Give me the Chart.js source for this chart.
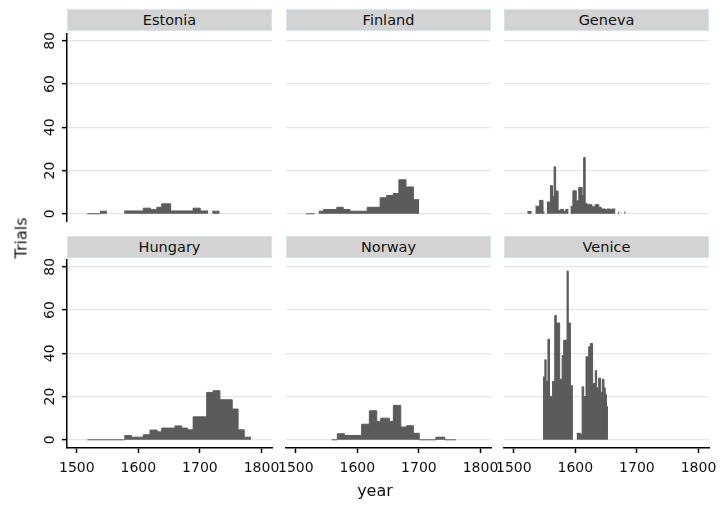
<!DOCTYPE html>
<html lang="en">
<head>
<meta charset="UTF-8">
<title>Trials by year</title>
<script src="https://cdn.jsdelivr.net/npm/chart.js"></script>
<style>
  body { margin: 0; background: #fff; font-family: "DejaVu Sans", sans-serif; }
  #fig { position: relative; width: 720px; height: 505px; overflow: hidden; }
  #fig canvas { position: absolute; }
  .strip { position: absolute; height: 22px; background: #d3d3d3; border: 1px solid #d3e4ec; box-sizing: border-box;
           text-align: center; font-size: 14.5px; line-height: 20px; color: #111; }
  .title { position: absolute; font-size: 16px; color: #111; white-space: nowrap; }
</style>
</head>
<body>
<div id="fig"></div>
<script>
// each series: bin edges (years) and the trials in each bin, null = no bar
const estoniaYears  = [1517, 1538.5, 1549, 1577, 1608, 1620, 1630, 1638, 1652.5, 1689, 1700.5, 1713.5, 1720, 1732];
const estoniaTrials = [0, 1.2, null, 1.3, 2.6, 1.9, 3, 4.6, 1.3, 2.6, 1.3, null, 1.2];

const finlandYears  = [1516.5, 1530.5, 1537, 1545, 1566.5, 1577, 1588, 1616, 1637, 1647.5, 1658.5, 1667.5, 1679, 1691, 1700.5];
const finlandTrials = [0, null, 1.2, 2, 3, 2, 1.2, 3, 7.4, 8.5, 9.4, 15.7, 12.4, 6.5];

const genevaYears  = [1522, 1529, 1535, 1542, 1547.5, 1550, 1553.5, 1559.5, 1563, 1565.5, 1568, 1572, 1575.5, 1581, 1584, 1589,
                      1592, 1596, 1601.5, 1605.5, 1611, 1613.5, 1616, 1619, 1627, 1632, 1638, 1642, 1649, 1651, 1657, 1659,
                      1665, 1669.5, 1671.5, 1679.5, 1681.5];
const genevaTrials = [1, null, 3.5, 6.2, 0.8, null, 5.4, 13, 8, 21.7, 10.5, 1.5, 2, 1, 2, null,
                      3.4, 10.6, 6, 12.2, 8.5, 26, 4.8, 4.2, 3.2, 4.2, 3, 2.2, 1.5, 2.2, 1.5, 2.2,
                      null, 0.8, null, 0.8];

const hungaryYears  = [1517, 1578, 1589, 1608, 1619, 1630.5, 1638, 1659.5, 1670.5, 1680, 1689, 1711, 1721.5, 1732.5, 1752.5, 1762, 1772, 1783];
const hungaryTrials = [0, 2, 1.2, 2.3, 4.5, 3.7, 5.4, 6.4, 5.4, 4.6, 10.6, 21.9, 22.7, 18.5, 14.2, 4.6, 1.2];

const norwayYears  = [1558.5, 1567.5, 1579, 1607, 1619.5, 1631.5, 1638, 1652, 1658.5, 1670.5, 1680, 1691, 1700.5, 1727.5, 1742, 1760];
const norwayTrials = [0, 2.8, 2, 7.2, 13.4, 8.5, 10, 8.5, 15.9, 5.9, 6.5, 3, 0, 1.2, 0];

const veniceYears  = [1547.5, 1550.5, 1552.5, 1555.5, 1558, 1563, 1566.5, 1569, 1574.5, 1578.5, 1581, 1586.5, 1588.5, 1592, 1596,
                      1602, 1608.5, 1611, 1613.5, 1617.3, 1621.6, 1624.3, 1628, 1632.4, 1634.5, 1637.8, 1641, 1643.8, 1646.5,
                      1648.6, 1650.5, 1653];
const veniceTrials = [29, 37, 27, 46.5, 20, 27, 57.5, 54, 28, 39, 46, 78, 54, 25, null,
                      3, 2.5, 24.5, 20, 38.4, 43, 44.5, 26, 32, 24, 28.5, 22, 28, 24,
                      21, 15.3];

const xTicks = [1500, 1600, 1700, 1800];
const yTicks = [0, 20, 40, 60, 80];

const panels = [
  { name: 'Estonia', years: estoniaYears, trials: estoniaTrials },
  { name: 'Finland', years: finlandYears, trials: finlandTrials },
  { name: 'Geneva',  years: genevaYears,  trials: genevaTrials },
  { name: 'Hungary', years: hungaryYears, trials: hungaryTrials },
  { name: 'Norway',  years: norwayYears,  trials: norwayTrials },
  { name: 'Venice',  years: veniceYears,  trials: veniceTrials }
];

const plotLeft = [67, 286, 504], plotTop = [33, 259], stripTop = [9, 236];
const plotW = 205, plotH = 189;
const barColor = '#5b5b5b';

Chart.defaults.font.family = '"DejaVu Sans", sans-serif';

// step outline: each bin holds its value until the next edge
function stepPoints(years, trials) {
  const pts = [];
  trials.forEach((v, i) => {
    if (v === null) return;
    pts.push({ x: years[i], y: v });
    if (i === trials.length - 1 || trials[i + 1] === null) {
      pts.push({ x: years[i + 1], y: v });
      pts.push({ x: years[i + 1], y: null });
    }
  });
  return pts;
}

// rotated y tick labels
const yLabels = {
  id: 'yLabels',
  afterDraw(chart, args, opts) {
    if (!opts.show) return;
    const ys = chart.scales.y, ctx = chart.ctx;
    ctx.save();
    ctx.font = '14px "DejaVu Sans"';
    ctx.fillStyle = '#111';
    ctx.textAlign = 'center';
    yTicks.forEach(v => {
      ctx.save();
      ctx.translate(53.5, ys.getPixelForValue(v));
      ctx.rotate(-Math.PI / 2);
      ctx.fillText(String(v), 0, 0);
      ctx.restore();
    });
    ctx.restore();
  }
};

const fig = document.getElementById('fig');

panels.forEach((p, k) => {
  const r = Math.floor(k / 3), c = k % 3;
  const left = c === 0 ? 67 : 20, right = 20, bottom = r === 1 ? 36 : 0;
  const w = left + plotW + right, h = plotH + bottom;

  const strip = document.createElement('div');
  strip.className = 'strip';
  strip.textContent = p.name;
  strip.style.left = plotLeft[c] + 'px';
  strip.style.top = stripTop[r] + 'px';
  strip.style.width = plotW + 'px';
  fig.appendChild(strip);

  const cv = document.createElement('canvas');
  cv.width = w; cv.height = h;
  cv.style.left = (plotLeft[c] - left) + 'px';
  cv.style.top = plotTop[r] + 'px';
  cv.style.width = w + 'px';
  cv.style.height = h + 'px';
  fig.appendChild(cv);

  new Chart(cv, {
    type: 'line',
    data: {
      datasets: [{
        data: stepPoints(p.years, p.trials),
        stepped: true,
        fill: 'origin',
        spanGaps: false,
        borderColor: barColor,
        backgroundColor: barColor,
        borderWidth: 1,
        pointRadius: 0
      }]
    },
    plugins: [yLabels],
    options: {
      responsive: false,
      animation: false,
      events: [],
      layout: { padding: { left: 0, right: right, top: 0, bottom: 0 } },
      plugins: { legend: { display: false }, tooltip: { enabled: false }, yLabels: { show: c === 0 } },
      scales: {
        x: {
          type: 'linear',
          min: 1484.1, max: 1817.1,
          display: r === 1,
          afterBuildTicks: s => { s.ticks = xTicks.map(v => ({ value: v })); },
          afterFit: s => { s.height = bottom; s.paddingLeft = 0; s.paddingRight = 0; },
          ticks: { callback: v => String(v), font: { size: 14 }, color: '#111', padding: 7, maxRotation: 0, autoSkip: false },
          grid: { display: true, drawOnChartArea: false, drawTicks: true, tickLength: 5, tickColor: '#000', tickWidth: 1.5 },
          border: { display: true, color: '#000', width: 1.5 }
        },
        y: {
          type: 'linear',
          min: -3.8, max: 83.6,
          afterBuildTicks: s => { s.ticks = yTicks.map(v => ({ value: v })); },
          afterFit: s => { s.width = left; },
          ticks: { display: false },
          grid: { color: '#e6e6e6', lineWidth: 1.3, drawTicks: c === 0, tickLength: 5, tickColor: '#000', tickWidth: 1.5 },
          border: { display: c === 0, color: '#000', width: 1.5 }
        }
      }
    }
  });
});

const yTitle = document.createElement('div');
yTitle.className = 'title';
yTitle.textContent = 'Trials';
yTitle.style.left = '21px';
yTitle.style.top = '238px';
yTitle.style.transform = 'translate(-50%, -50%) rotate(-90deg)';
fig.appendChild(yTitle);

const xTitle = document.createElement('div');
xTitle.className = 'title';
xTitle.textContent = 'year';
xTitle.style.left = '375px';
xTitle.style.top = '490px';
xTitle.style.transform = 'translate(-50%, -50%)';
fig.appendChild(xTitle);
</script>
</body>
</html>
